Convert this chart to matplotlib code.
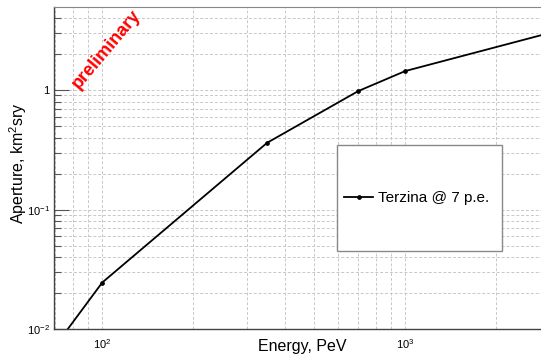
import math
import matplotlib
matplotlib.use("Agg")
import matplotlib.pyplot as plt
from matplotlib.ticker import LogLocator, FuncFormatter, NullFormatter
from matplotlib.patches import Rectangle

plt.rcParams['font.family'] = ['Liberation Sans', 'DejaVu Sans']
plt.rcParams['mathtext.fontset'] = 'custom'
plt.rcParams['mathtext.rm'] = 'Liberation Sans'
plt.rcParams['mathtext.it'] = 'Liberation Sans:italic'
plt.rcParams['mathtext.bf'] = 'Liberation Sans:bold'

# aperture curve, Terzina @ 7 p.e.
energy = [50, 100, 350, 700, 1000, 3000]     # PeV
aperture = [0.0023, 0.0246, 0.362, 0.98, 1.44, 3.0]   # km^2 sr y
series_label = "Terzina @ 7 p.e."


def log_label(v, pos):
    if abs(v - 1) < 1e-9:
        return "1"
    e = int(round(math.log10(v)))
    return r"$10^{%d}$" % e


fig = plt.figure(figsize=(5.41, 3.58), dpi=100)
ax = fig.add_axes([0.0998, 0.0802, 0.9002, 0.8994])

ax.plot(energy, aperture, color='black', lw=1.3, marker='o', ms=2.4,
        label=series_label)

ax.set_xscale('log')
ax.set_yscale('log')
ax.set_xlim(69.3, 2805)
ax.set_ylim(0.01, 4.91)

ax.xaxis.set_major_locator(LogLocator(base=10))
ax.xaxis.set_minor_locator(LogLocator(base=10, subs=range(2, 10)))
ax.yaxis.set_major_locator(LogLocator(base=10))
ax.yaxis.set_minor_locator(LogLocator(base=10, subs=range(2, 10)))
ax.xaxis.set_major_formatter(FuncFormatter(log_label))
ax.yaxis.set_major_formatter(FuncFormatter(log_label))
ax.xaxis.set_minor_formatter(NullFormatter())
ax.yaxis.set_minor_formatter(NullFormatter())

ax.grid(True, which='both', color='#c8c8c8', ls=(0, (3, 2)), lw=0.7)
ax.set_axisbelow(True)

ax.tick_params(axis='y', which='major', direction='in', length=11, width=0.8,
               color='#555555', labelsize=8, pad=3)
ax.tick_params(axis='y', which='minor', direction='in', length=5, width=0.8,
               color='#555555')
ax.tick_params(axis='x', which='both', length=0, labelsize=8, pad=6)

for s in ['left', 'bottom']:
    ax.spines[s].set_color('#444444')
    ax.spines[s].set_linewidth(1.0)
ax.spines['top'].set_color('#888888')
ax.spines['right'].set_visible(False)

ax.set_xlabel("Energy, PeV", fontsize=11.5)
ax.set_ylabel(r"Aperture, km$^{2}$sry", fontsize=11.5)
ax.xaxis.set_label_coords(0.509, -0.052)
ax.yaxis.set_label_coords(-0.074, 0.516)
ax.xaxis.label.set_va('center')
ax.yaxis.label.set_va('center')

ax.text(0.107, 0.868, "preliminary", transform=ax.transAxes, color='red',
        fontsize=13, fontweight='bold', rotation=50, ha='center', va='center')

box = Rectangle((0.5817, 0.243), 0.3376, 0.3284, transform=ax.transAxes,
                facecolor='white', edgecolor='#888888', lw=1.0, zorder=4)
ax.add_patch(box)
leg = ax.legend(loc='center', bbox_to_anchor=(0.745, 0.407), frameon=False,
                fontsize=11, handlelength=1.9, handletextpad=0.35,
                numpoints=1)
leg.set_zorder(5)

fig.savefig("out.png", dpi=100)
